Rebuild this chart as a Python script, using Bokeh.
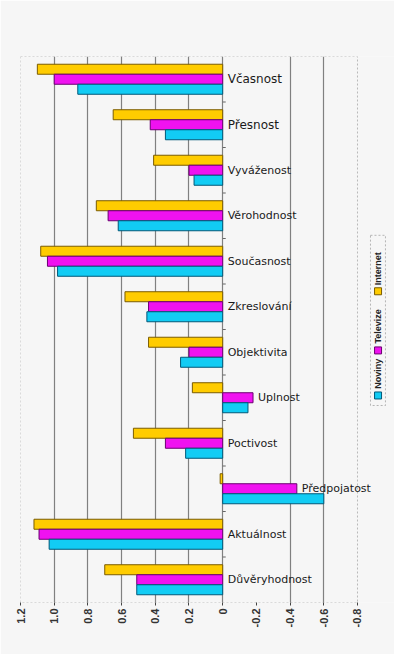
import math
from bokeh.plotting import figure
from bokeh.models import ColumnDataSource, Range1d, FixedTicker, BoxAnnotation
from bokeh.core.properties import value
from bokeh.embed import file_html
from bokeh.resources import INLINE

# ---- data ----
categories = ["Včasnost", "Přesnost", "Vyváženost", "Věrohodnost", "Současnost",
              "Zkreslování", "Objektivita", "Uplnost", "Poctivost", "Předpojatost",
              "Aktuálnost", "Důvěryhodnost"]
internet = [1.10, 0.65, 0.41, 0.75, 1.08, 0.58, 0.44, 0.18, 0.53, 0.015, 1.12, 0.70]
televize = [1.00, 0.43, 0.20, 0.68, 1.04, 0.44, 0.20, -0.18, 0.34, -0.44, 1.09, 0.51]
noviny = [0.86, 0.34, 0.17, 0.62, 0.98, 0.45, 0.25, -0.15, 0.22, -0.60, 1.03, 0.51]
series_names = ["Noviny", "Televize", "Internet"]
tick_values = [1.2, 1.0, 0.8, 0.6, 0.4, 0.2, 0.0, -0.2, -0.4, -0.6, -0.8]
tick_labels = ["1.2", "1.0", "0.8", "0.6", "0.4", "0.2", "0", "-0.2", "-0.4", "-0.6", "-0.8"]
grid_values = [1.0, 0.8, 0.6, 0.4, 0.2, 0.0, -0.4, -0.6]

# ---- styles ----
BG = "#f6f6f6"
fills = {"Internet": "#ffcc00", "Televize": "#f012f0", "Noviny": "#12ccf4"}
edges = {"Internet": "#7a5c00", "Televize": "#6a0070", "Noviny": "#005878"}
label_sizes = ["12px", "12px"] + ["11px"] * 10
BAR_H = 0.22

n = len(categories)
centers = [n - 0.5 - i for i in range(n)]

p = figure(width=394, height=654, output_backend="svg", toolbar_location=None,
           x_range=Range1d(1.2, -1.0196), y_range=Range1d(0, n),
           y_axis_location=None, min_border_left=20, min_border_right=0,
           min_border_top=56, min_border_bottom=52,
           background_fill_color=BG, border_fill_color=BG, outline_line_color=None)

# grid
p.xgrid.ticker = FixedTicker(ticks=grid_values)
p.xgrid.grid_line_color = "#808080"
p.xgrid.grid_line_width = 1.2
p.ygrid.grid_line_color = None

# axis
ax = p.xaxis[0]
ax.ticker = FixedTicker(ticks=tick_values)
ax.major_label_overrides = {v: l for v, l in zip(tick_values, tick_labels)}
ax.major_label_orientation = math.pi / 2
ax.axis_line_color = None
ax.major_tick_in = 0
ax.major_tick_out = 3
ax.major_tick_line_color = "#444444"
ax.minor_tick_line_color = None
ax.major_label_standoff = 3
ax.major_label_text_font = "Liberation Sans"
ax.major_label_text_font_style = "bold"
ax.major_label_text_font_size = "11px"
ax.major_label_text_color = "#333333"

# dashed frame around plotting area
p.add_layout(BoxAnnotation(left=1.2, right=-0.8, bottom=0, top=n,
                           fill_color=None, line_color="#333333",
                           line_dash="2 2", line_width=1))

# bars
src = ColumnDataSource(dict(
    y_int=[c + BAR_H for c in centers], y_tv=centers, y_nov=[c - BAR_H for c in centers],
    internet=internet, televize=televize, noviny=noviny,
))
for name, ycol, xcol in [("Internet", "y_int", "internet"),
                         ("Televize", "y_tv", "televize"),
                         ("Noviny", "y_nov", "noviny")]:
    p.hbar(y=ycol, right=xcol, left=0, height=BAR_H, source=src,
           fill_color=fills[name], line_color=edges[name], line_width=1)

# small separators on the category axis at zero
bounds = list(range(1, n))
p.segment(x0=[0] * len(bounds), x1=[-0.018] * len(bounds), y0=bounds, y1=bounds,
          line_color="#666666", line_width=1)

# category labels
lab = ColumnDataSource(dict(
    x=[min(0, v) for v in televize], y=centers, text=categories, size=label_sizes))
p.text(x="x", y="y", text="text", source=lab, x_offset=5,
       text_align="left", text_baseline="middle",
       text_font=value("DejaVu Sans"), text_font_size="size", text_color="#1a1a1a")

# rotated legend on the right
p.add_layout(BoxAnnotation(left=-0.877, right=-0.966, bottom=4.33, top=8.07,
                           fill_color=None, line_color="#222222",
                           line_dash="2 2", line_width=1))
leg_x = -0.922
sq_y = [4.55, 5.54, 6.84]
txt_y = [4.70, 5.69, 6.97]
p.scatter(x=[leg_x] * 3, y=sq_y, marker="square", size=7,
          fill_color=[fills[s] for s in series_names],
          line_color=[edges[s] for s in series_names], line_width=1)
p.text(x=[leg_x] * 3, y=txt_y, text=series_names, angle=math.pi / 2,
       text_align="left", text_baseline="middle",
       text_font=value("Liberation Sans"), text_font_style="bold",
       text_font_size="9px", text_color="#222222")

open("out.html", "w").write(file_html(p, INLINE))
